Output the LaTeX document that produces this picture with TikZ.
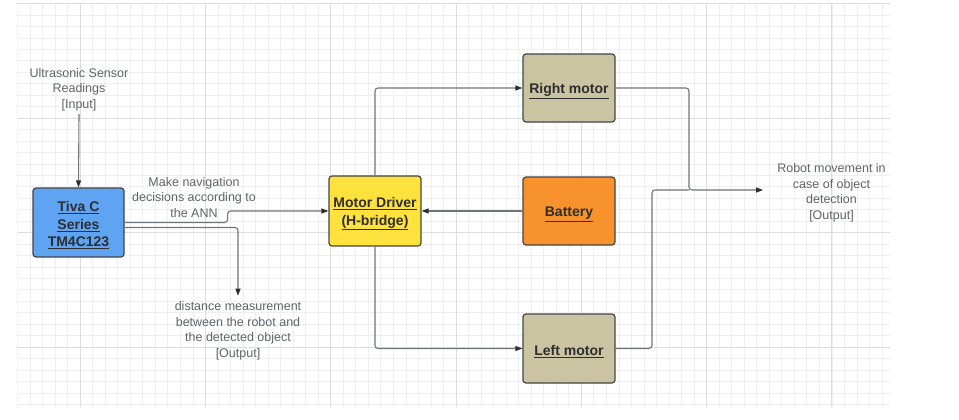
\documentclass[tikz,border=0pt]{standalone}
\usepackage{fontspec}
\setmainfont{Liberation Sans}
\usetikzlibrary{arrows.meta}
\definecolor{gridminor}{HTML}{EFEFEF}
\definecolor{gridmajor}{HTML}{DDDDDD}
\definecolor{linegray}{HTML}{70757C}
\definecolor{labelgray}{HTML}{5F646B}
\definecolor{tivablue}{HTML}{5EA4F2}
\definecolor{drvyellow}{HTML}{FFE23D}
\definecolor{battorange}{HTML}{F7922D}
\definecolor{motortan}{HTML}{CBC4A3}
\definecolor{boxline}{HTML}{444444}
\definecolor{boxtext}{HTML}{2E2E2E}
\newcommand{\lowerstrut}{\rule{0pt}{16pt}}
\begin{document}
\begin{tikzpicture}[x=1pt,y=-1pt,
  block/.style={draw=boxline, line width=1.2pt, rounded corners=3pt, inner sep=0pt,
    minimum width=92pt, minimum height=69pt, align=center, text=boxtext,
    font=\fontsize{14}{17.5}\selectfont\bfseries},
  lbl/.style={align=center, text=labelgray, inner sep=0pt,
    font=\fontsize{12.5}{15.5}\selectfont},
  conn/.style={draw=linegray, line width=1.1pt, rounded corners=3pt,
    -{Triangle[length=7pt,width=5pt,color=boxtext]}},
  plainconn/.style={draw=linegray, line width=1.1pt, rounded corners=3pt},
  minorline/.style={draw=gridminor, line width=0.6pt},
  majorline/.style={draw=gridmajor, line width=0.8pt}]
\useasboundingbox[fill=white] (0,0) rectangle (959,420);
% grid
\begin{scope}
  \clip (17.4,3.5) rectangle (890,407);
  \foreach \i in {0,...,70} \draw[minorline] ({17.4+12.53*\i},3.5) -- ++(0,403.5);
  \foreach \j in {0,...,36} \draw[minorline] (17.4,{3.5+11.45*\j}) -- ++(872.6,0);
  \foreach \i in {0,...,6} \draw[majorline] ({80+125.3*\i},3.5) -- ++(0,403.5);
  \foreach \j in {0,...,3} \draw[majorline] (17.4,{3.5+114.5*\j}) -- ++(872.6,0);
\end{scope}
% blocks
\node[block, fill=tivablue, minimum width=91pt] (tiva) at (78.5,222.5)
  {\lowerstrut\underline{Tiva C}\\\underline{Series}\\\underline{TM4C123}};
\node[block, fill=drvyellow, minimum height=70pt] (drv) at (375,211)
  {\lowerstrut\underline{Motor Driver}\\\underline{(H-bridge)}};
\node[block, fill=motortan, minimum height=68pt] (rm) at (569,88) {\lowerstrut\underline{Right motor}};
\node[block, fill=battorange, minimum height=68pt] (bat) at (569,211) {\lowerstrut\underline{Battery}};
\node[block, fill=motortan] (lm) at (569,348.5) {\lowerstrut\underline{Left motor}};
% labels
\node[lbl] (sens) at (79,89.5) {Ultrasonic Sensor\\Readings\\{}[Input]};
\node[lbl] (nav) at (194,197.5) {Make navigation\\decisions according to\\the ANN};
\node[lbl] (dist) at (238,331) {distance measurement\\between the robot and\\the detected object\\{}[Output]};
\node[lbl] (out) at (831.5,193) {Robot movement in\\case of object\\detection\\{}[Output]};
\coordinate (join) at (689,190);
\coordinate (lmup) at (652,190);
% connectors
\draw[conn] ([yshift=-3pt]sens.south) -- (tiva.north);
\draw[conn] (tiva.east) -- ++(103,0) |- (drv.west);
\draw[conn, shorten >=6pt] ([yshift=-5pt]tiva.east) -| (dist.north);
\draw[conn] (drv.north) |- (rm.west);
\draw[conn] (drv.south) |- (lm.west);
\draw[conn] (bat.west) -- (drv.east);
\draw[conn, shorten >=14pt] (rm.east) -| (join) -- (join -| out.west);
\draw[plainconn] (lm.east) -| (lmup) -- (join);
\end{tikzpicture}
\end{document}
